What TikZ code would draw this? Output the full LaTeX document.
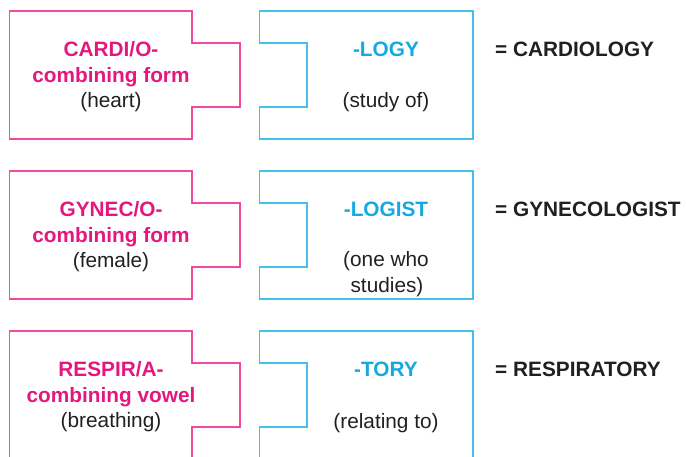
\documentclass[tikz,border=0pt]{standalone}
\usepackage{fontspec}
\setmainfont{Liberation Sans}
\definecolor{magtext}{HTML}{E5177F}
\definecolor{magline}{HTML}{EE4C9E}
\definecolor{cyantext}{HTML}{14A9E1}
\definecolor{cyanline}{HTML}{45BEEC}
\definecolor{darktext}{HTML}{231F20}
\begin{document}
\begin{tikzpicture}[x=1pt,y=-1pt,
  lpiece/.style={draw=magline,line width=1.7pt,line join=miter},
  rpiece/.style={draw=cyanline,line width=1.7pt,line join=miter},
  txt/.style={inner sep=0pt,anchor=base,font=\fontsize{20.8}{25}\selectfont},
  magb/.style={txt,text=magtext,font=\fontsize{20.8}{25}\selectfont\bfseries},
  cyb/.style={txt,text=cyantext,font=\fontsize{20.8}{25}\selectfont\bfseries},
  reg/.style={txt,text=darktext},
  res/.style={inner sep=0pt,anchor=base west,text=darktext,font=\fontsize{20.8}{25}\selectfont\bfseries}]
\useasboundingbox (0,0) rectangle (686,457);
\clip (0,0) rectangle (686,457);
% row 1
\draw[lpiece] (9.5,11) -- (192,11) -- (192,43) -- (240,43) -- (240,107) -- (192,107) -- (192,139) -- (9.5,139) -- cycle;
\draw[rpiece] (259.5,11) -- (473,11) -- (473,139) -- (259.5,139) -- (259.5,107) -- (307,107) -- (307,43) -- (259.5,43) -- cycle;
\node[magb] (c1) at (111,56.5) {CARDI/O-};
\node[magb] (c2) at (111,82.5) {combining form};
\node[reg] (c3) at (111,107.5) {(heart)};
\node[cyb] (l1) at (386,56.5) {-LOGY};
\node[reg] (l2) at (386,108) {(study of)};
\node[res] (r1) at (495,56.5) {= CARDIOLOGY};
% row 2
\begin{scope}[shift={(0,160)}]
\draw[lpiece] (9.5,11) -- (192,11) -- (192,43) -- (240,43) -- (240,107) -- (192,107) -- (192,139) -- (9.5,139) -- cycle;
\draw[rpiece] (259.5,11) -- (473,11) -- (473,139) -- (259.5,139) -- (259.5,107) -- (307,107) -- (307,43) -- (259.5,43) -- cycle;
\node[magb] (g1) at (111,56.5) {GYNEC/O-};
\node[magb] (g2) at (111,82.5) {combining form};
\node[reg] (g3) at (111,107.5) {(female)};
\node[cyb] (m1) at (386,56.5) {-LOGIST};
\node[reg] (m2) at (386,107) {(one who};
\node[reg] (m3) at (387,132.5) {studies)};
\node[res] (r2) at (495,56.5) {= GYNECOLOGIST};
\end{scope}
% row 3
\begin{scope}[shift={(0,320)}]
\draw[lpiece] (9.5,150) -- (9.5,11) -- (192,11) -- (192,43) -- (240,43) -- (240,107) -- (192,107) -- (192,150);
\draw[rpiece] (473,150) -- (473,11) -- (259.5,11) -- (259.5,43) -- (307,43) -- (307,107) -- (259.5,107) -- (259.5,150);
\node[magb] (p1) at (111,56.5) {RESPIR/A-};
\node[magb] (p2) at (111,82.5) {combining vowel};
\node[reg] (p3) at (111,107.5) {(breathing)};
\node[cyb] (t1) at (386,56.5) {-TORY};
\node[reg] (t2) at (386,108) {(relating to)};
\node[res] (r3) at (495,56.5) {= RESPIRATORY};
\end{scope}
\end{tikzpicture}
\end{document}
